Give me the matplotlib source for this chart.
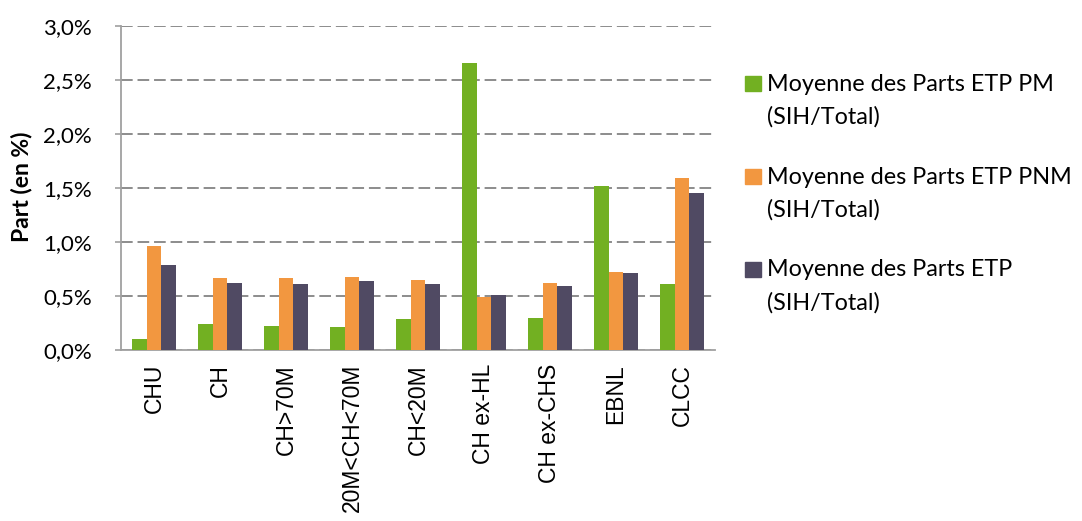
import numpy as np
import matplotlib.pyplot as plt
from matplotlib.patches import Rectangle
from matplotlib.ticker import FuncFormatter

categories = ['CHU', 'CH', 'CH>70M', '20M<CH<70M', 'CH<20M',
              'CH ex-HL', 'CH ex-CHS', 'EBNL', 'CLCC']
part_pm = [0.10, 0.24, 0.22, 0.215, 0.29, 2.66, 0.30, 1.52, 0.61]
part_pnm = [0.96, 0.67, 0.67, 0.68, 0.65, 0.495, 0.62, 0.72, 1.59]
part_etp = [0.79, 0.625, 0.615, 0.635, 0.615, 0.51, 0.59, 0.715, 1.45]

series = [
    ('Moyenne des Parts ETP PM\n(SIH/Total)', part_pm, '#72B022'),
    ('Moyenne des Parts ETP PNM\n(SIH/Total)', part_pnm, '#F29740'),
    ('Moyenne des Parts ETP\n(SIH/Total)', part_etp, '#504A63'),
]

calibri = ['Lato', 'DejaVu Sans']
W, H = 1082, 521

fig = plt.figure(figsize=(W / 100, H / 100), dpi=100)
ax = fig.add_axes([121 / W, 1 - 350 / H, 594 / W, 324 / H])

x = np.arange(len(categories))
w = 0.667 / 3
for i, (label, vals, col) in enumerate(series):
    ax.bar(x + (i - 1) * w, vals, w, color=col, zorder=3)

ax.set_xlim(-0.5, len(categories) - 0.5)
ax.set_ylim(0, 3.0)
ax.set_yticks(np.arange(0, 3.01, 0.5))
ax.yaxis.set_major_formatter(FuncFormatter(lambda v, p: '{:.1f}%'.format(v).replace('.', ',')))
ax.grid(axis='y', color='#8c8c8c', ls=(0, (6, 2.5)), lw=1.4, zorder=0)

for s in ['top', 'right']:
    ax.spines[s].set_visible(False)
for s in ['left', 'bottom']:
    ax.spines[s].set_color('#a0a0a0')
    ax.spines[s].set_linewidth(1.3)

ax.set_xticks(x)
ax.set_xticklabels(categories, rotation=90, fontsize=16.5,
                   family='Liberation Sans')
ax.tick_params(axis='x', length=0, pad=10)
ax.tick_params(axis='y', length=4, color='#a0a0a0', width=1.2, pad=17)
for t in ax.get_yticklabels():
    t.set_family(calibri)
    t.set_fontsize(16)

fig.text(22 / W, 1 - 187 / H, 'Part (en %)', rotation=90, fontsize=16.5,
         fontweight='bold', family=calibri, ha='center', va='center')

# legend drawn by hand so each square sits on the first label line
baselines = [91, 183.5, 276.5]
for (label, vals, col), yb in zip(series, baselines):
    fig.patches.append(Rectangle((745 / W, 1 - yb / H), 15.5 / W, 15 / H,
                                 color=col, transform=fig.transFigure))
    for k, line in enumerate(label.split('\n')):
        fig.text(767 / W, 1 - (yb + 33 * k) / H, line, fontsize=16.8,
                 family=calibri, ha='left', va='baseline')

fig.savefig('out.png', dpi=100)
